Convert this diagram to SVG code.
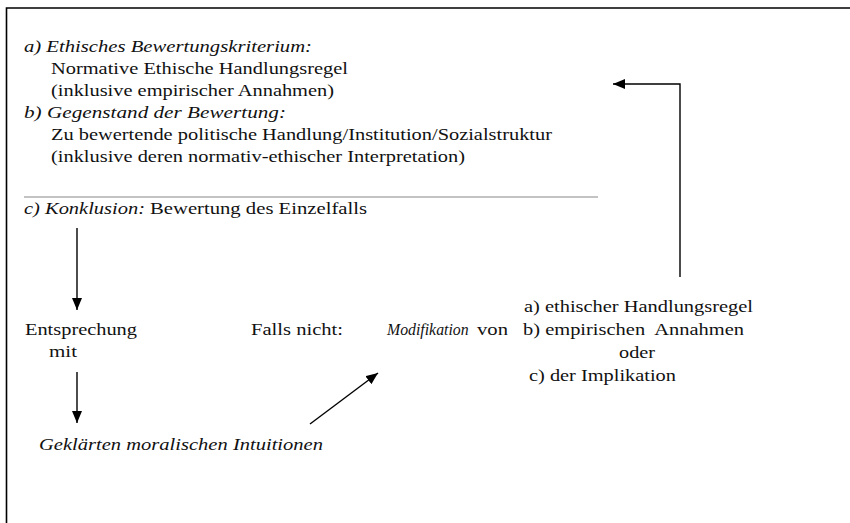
<svg xmlns="http://www.w3.org/2000/svg" width="850" height="523" viewBox="0 0 850 523">
<style>
text{font-family:"Liberation Serif","Times New Roman",Times,serif;font-size:17.5px;fill:#111}
.i{font-style:italic}
.frame{stroke:#000;stroke-width:1.6;fill:none}
.rule{stroke:#888;stroke-width:1.2}
.conn{stroke:#000;stroke-width:1.4;fill:none}
</style>
<defs>
<marker id="ah" viewBox="0 0 12 10" refX="12" refY="5" markerWidth="12" markerHeight="10" markerUnits="userSpaceOnUse" orient="auto">
<path d="M0,0 L12,5 L0,10 z" fill="#000"/>
</marker>
</defs>
<rect width="850" height="523" fill="#fff"/>
<path class="frame" d="M6.5,530 V8 H860"/>

<g id="premises">
<text class="i" x="24" y="52" textLength="288" lengthAdjust="spacingAndGlyphs">a) Ethisches Bewertungskriterium:</text>
<text x="51" y="74" textLength="297" lengthAdjust="spacingAndGlyphs">Normative Ethische Handlungsregel</text>
<text x="51" y="96" textLength="283" lengthAdjust="spacingAndGlyphs">(inklusive empirischer Annahmen)</text>
<text class="i" x="24" y="118" textLength="262" lengthAdjust="spacingAndGlyphs">b) Gegenstand der Bewertung:</text>
<text x="51" y="140" textLength="501" lengthAdjust="spacingAndGlyphs">Zu bewertende politische Handlung/Institution/Sozialstruktur</text>
<text x="51" y="162" textLength="414" lengthAdjust="spacingAndGlyphs">(inklusive deren normativ-ethischer Interpretation)</text>
<line class="rule" x1="24" y1="197" x2="598" y2="197"/>
</g>

<g id="conclusion">
<text class="i" x="24" y="214" textLength="121" lengthAdjust="spacingAndGlyphs">c) Konklusion:</text>
<text x="150" y="214" textLength="217" lengthAdjust="spacingAndGlyphs">Bewertung des Einzelfalls</text>
</g>

<g id="entsprechung">
<text x="25" y="335" textLength="112" lengthAdjust="spacingAndGlyphs">Entsprechung</text>
<text x="49" y="357" textLength="28" lengthAdjust="spacingAndGlyphs">mit</text>
</g>

<g id="intuitionen">
<text class="i" x="39" y="450" textLength="284" lengthAdjust="spacingAndGlyphs">Geklärten moralischen Intuitionen</text>
</g>

<g id="modifikation">
<text x="251" y="335" textLength="92" lengthAdjust="spacingAndGlyphs">Falls nicht:</text>
<text class="i" x="387" y="335" style="font-size:15.8px">Modifikation</text>
<text x="477" y="335" textLength="31" lengthAdjust="spacingAndGlyphs">von</text>
</g>

<g id="optionen">
<text x="524" y="312" textLength="229" lengthAdjust="spacingAndGlyphs">a) ethischer Handlungsregel</text>
<text xml:space="preserve" x="523" y="335" textLength="221" lengthAdjust="spacingAndGlyphs">b) empirischen  Annahmen</text>
<text x="619" y="358" textLength="36" lengthAdjust="spacingAndGlyphs">oder</text>
<text x="529" y="381" textLength="147" lengthAdjust="spacingAndGlyphs">c) der Implikation</text>
</g>

<g id="connectors">
<line class="conn" x1="77" y1="228" x2="77" y2="310" marker-end="url(#ah)"/>
<line class="conn" x1="77" y1="372" x2="77" y2="423" marker-end="url(#ah)"/>
<line class="conn" x1="310" y1="424" x2="378" y2="373" marker-end="url(#ah)"/>
<path class="conn" d="M680,277 V84 H613" marker-end="url(#ah)"/>
</g>
</svg>
